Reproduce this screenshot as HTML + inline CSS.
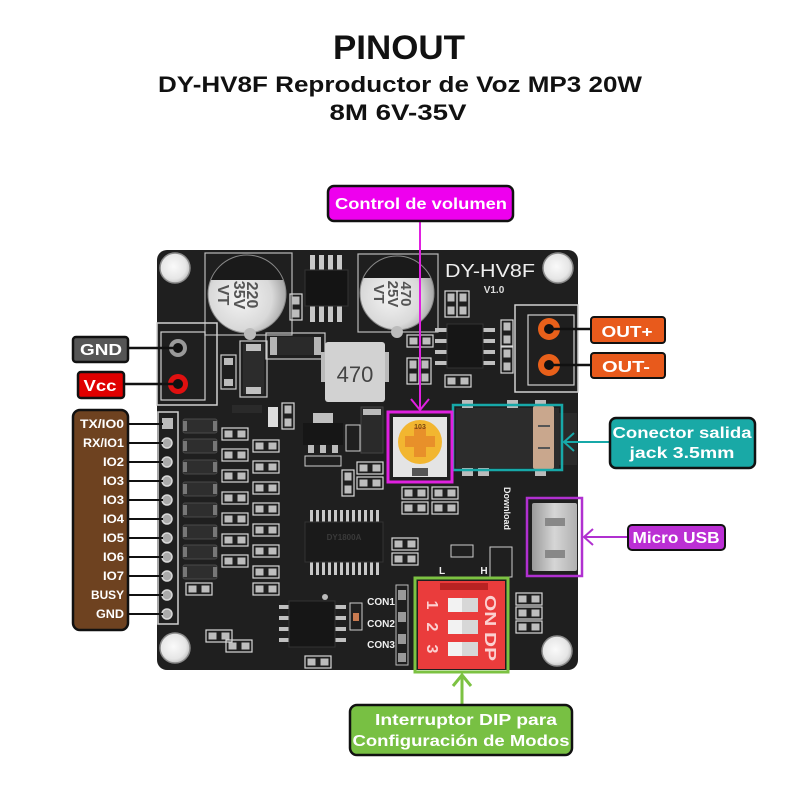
<!DOCTYPE html>
<html><head><meta charset="utf-8"><style>
body{margin:0;background:#fff}
svg{display:block}
text{font-family:"Liberation Sans",Arial,sans-serif;font-weight:bold}
</style></head><body>
<svg width="800" height="800" viewBox="0 0 800 800" xmlns="http://www.w3.org/2000/svg">
<defs>
<radialGradient id="cap" cx="0.42" cy="0.55" r="0.62"><stop offset="0" stop-color="#f4f4f4"/><stop offset="0.65" stop-color="#d9d9d9"/><stop offset="1" stop-color="#9c9c9c"/></radialGradient>
<radialGradient id="hole" cx="0.45" cy="0.45" r="0.6"><stop offset="0" stop-color="#fafafa"/><stop offset="0.7" stop-color="#e6e6e6"/><stop offset="1" stop-color="#b8b8b8"/></radialGradient>
<linearGradient id="usb" x1="0" y1="0" x2="1" y2="0"><stop offset="0" stop-color="#9a9a9a"/><stop offset="0.5" stop-color="#d6d6d6"/><stop offset="1" stop-color="#b0b0b0"/></linearGradient>
<clipPath id="c1"><circle cx="247" cy="294" r="39"/></clipPath>
<clipPath id="c2"><circle cx="397" cy="293" r="37"/></clipPath>
<g id="pp"><rect x="0" y="0" width="26" height="12" fill="none" stroke="#d8d8d8" stroke-width="1.2"/><rect x="2.5" y="2.5" width="8" height="7" fill="#bdbdbd"/><rect x="15.5" y="2.5" width="8" height="7" fill="#bdbdbd"/></g>
<g id="vr"><rect x="0" y="0" width="12" height="26" fill="none" stroke="#d8d8d8" stroke-width="1.2"/><rect x="2.5" y="2.5" width="7" height="8" fill="#bdbdbd"/><rect x="2.5" y="15.5" width="7" height="8" fill="#bdbdbd"/></g>
<g id="ra"><rect x="0" y="0" width="34" height="14" rx="2" fill="#2e2e2e" stroke="#4a4a4a" stroke-width="1"/><rect x="0" y="2" width="4" height="10" fill="#777"/><rect x="30" y="2" width="4" height="10" fill="#777"/></g>
</defs>
<rect width="800" height="800" fill="#fff"/>

<!-- Title -->
<text x="399" y="59" text-anchor="middle" font-size="34" fill="#111" textLength="132" lengthAdjust="spacingAndGlyphs">PINOUT</text>
<text x="400" y="92" text-anchor="middle" font-size="22" fill="#111" textLength="484" lengthAdjust="spacingAndGlyphs">DY-HV8F Reproductor de Voz MP3 20W</text>
<text x="398" y="120" text-anchor="middle" font-size="22" fill="#111" textLength="137" lengthAdjust="spacingAndGlyphs">8M 6V-35V</text>

<!-- Board -->
<rect x="157" y="250" width="421" height="420" rx="10" fill="#1f1f1f"/>
<!-- mounting holes -->
<circle cx="175" cy="268" r="15" fill="url(#hole)" stroke="#8a8a8a" stroke-width="1.5"/>
<circle cx="558" cy="268" r="15" fill="url(#hole)" stroke="#8a8a8a" stroke-width="1.5"/>
<circle cx="175" cy="648" r="15" fill="url(#hole)" stroke="#8a8a8a" stroke-width="1.5"/>
<circle cx="557" cy="651" r="15" fill="url(#hole)" stroke="#8a8a8a" stroke-width="1.5"/>

<!-- Capacitor 1 -->
<rect x="205" y="253" width="87" height="82" fill="none" stroke="#bbb" stroke-width="1.2"/>
<circle cx="247" cy="294" r="39" fill="url(#cap)"/>
<rect x="205" y="250" width="90" height="30" fill="#1a1a1a" clip-path="url(#c1)"/>
<circle cx="247" cy="294" r="39" fill="none" stroke="#888" stroke-width="1"/>
<circle cx="250" cy="334" r="6" fill="#bbb"/>
<g transform="translate(247,295) rotate(90)" fill="#555" font-size="16">
<text x="0" y="0" text-anchor="middle">220</text>
<text x="0" y="13" text-anchor="middle">35V</text>
<text x="0" y="29" text-anchor="middle">VT</text>
</g>
<!-- Capacitor 2 -->
<rect x="358" y="254" width="80" height="78" fill="none" stroke="#bbb" stroke-width="1.2"/>
<circle cx="397" cy="293" r="37" fill="url(#cap)"/>
<rect x="355" y="250" width="90" height="28" fill="#1a1a1a" clip-path="url(#c2)"/>
<circle cx="397" cy="293" r="37" fill="none" stroke="#888" stroke-width="1"/>
<circle cx="397" cy="332" r="6" fill="#bbb"/>
<g transform="translate(397,294) rotate(90)" fill="#555" font-size="15">
<text x="0" y="-4" text-anchor="middle">470</text>
<text x="0" y="9" text-anchor="middle">25V</text>
<text x="0" y="23" text-anchor="middle">VT</text>
</g>

<!-- top SOIC -->
<g fill="#c8c8c8">
<rect x="310" y="255" width="5" height="17"/><rect x="319" y="255" width="5" height="17"/><rect x="328" y="255" width="5" height="17"/><rect x="337" y="255" width="5" height="17"/>
<rect x="310" y="305" width="5" height="17"/><rect x="319" y="305" width="5" height="17"/><rect x="328" y="305" width="5" height="17"/><rect x="337" y="305" width="5" height="17"/>
</g>
<rect x="305" y="270" width="43" height="36" fill="#141414" stroke="#333"/>
<use href="#vr" x="290" y="294"/>

<!-- M535 diode -->
<rect x="266" y="333" width="59" height="26" fill="none" stroke="#ccc" stroke-width="1.2"/>
<rect x="270" y="337" width="51" height="18" fill="#2a2a2a"/>
<rect x="270" y="337" width="7" height="18" fill="#b5b5b5"/><rect x="314" y="337" width="7" height="18" fill="#b5b5b5"/>
<!-- SS34 -->
<rect x="240" y="341" width="27" height="56" fill="none" stroke="#ccc" stroke-width="1.2"/>
<rect x="243" y="344" width="21" height="50" fill="#2c2c2c"/>
<rect x="246" y="344" width="15" height="7" fill="#c0c0c0"/><rect x="246" y="387" width="15" height="7" fill="#c0c0c0"/>
<rect x="221" y="355" width="15" height="34" fill="none" stroke="#ccc" stroke-width="1.2"/>
<rect x="224" y="358" width="9" height="7" fill="#bbb"/><rect x="224" y="379" width="9" height="7" fill="#bbb"/>
<!-- Inductor -->
<rect x="321" y="352" width="6" height="30" fill="#bbb"/><rect x="383" y="352" width="6" height="30" fill="#bbb"/>
<rect x="325" y="342" width="60" height="60" rx="3" fill="#d2d2d2"/>
<text x="355" y="382" text-anchor="middle" font-size="22" font-weight="normal" fill="#444" style="font-weight:normal">470</text>

<!-- GND/VCC terminal -->
<rect x="157" y="323" width="60" height="82" fill="none" stroke="#d0d0d0" stroke-width="1.5"/>
<rect x="161" y="332" width="44" height="68" fill="none" stroke="#d0d0d0" stroke-width="1.2"/>
<circle cx="178" cy="348" r="9" fill="#999"/><circle cx="178" cy="348" r="5" fill="#111"/>
<circle cx="178" cy="384" r="10" fill="#e01010"/><circle cx="178" cy="384" r="5" fill="#111"/>

<!-- small comps center -->
<use href="#vr" x="282" y="403"/>
<rect x="268" y="407" width="10" height="20" fill="#ddd"/>
<rect x="303" y="423" width="40" height="22" fill="#161616"/>
<rect x="313" y="413" width="20" height="10" fill="#c0c0c0"/>
<rect x="308" y="445" width="6" height="8" fill="#bbb"/><rect x="320" y="445" width="6" height="8" fill="#bbb"/><rect x="332" y="445" width="6" height="8" fill="#bbb"/>
<rect x="305" y="456" width="36" height="10" fill="none" stroke="#ccc"/>
<rect x="346" y="425" width="14" height="26" fill="none" stroke="#ccc"/>
<rect x="361" y="407" width="22" height="46" fill="#2a2a2a" stroke="#444"/>
<rect x="363" y="409" width="18" height="6" fill="#bbb"/>
<use href="#pp" x="357" y="462"/><use href="#pp" x="357" y="477"/>
<use href="#vr" x="342" y="470"/>
<use href="#pp" x="402" y="487"/><use href="#pp" x="432" y="487"/>
<use href="#pp" x="402" y="502"/><use href="#pp" x="432" y="502"/>
<use href="#pp" x="392" y="538"/><use href="#pp" x="392" y="553"/>
<rect x="232" y="405" width="30" height="8" fill="#2a2a2a"/>

<!-- right side top -->
<text x="490" y="277" text-anchor="middle" font-size="18" fill="#eee" style="font-weight:normal" textLength="90" lengthAdjust="spacingAndGlyphs">DY-HV8F</text>
<text x="494" y="293" text-anchor="middle" font-size="10" fill="#ddd">V1.0</text>
<use href="#vr" x="445" y="291"/><use href="#vr" x="457" y="291"/>
<use href="#pp" x="407" y="335"/>
<use href="#vr" x="407" y="358"/><use href="#vr" x="419" y="358"/>
<use href="#pp" x="445" y="375"/>
<g fill="#c0c0c0">
<rect x="435" y="328" width="13" height="4"/><rect x="435" y="339" width="13" height="4"/><rect x="435" y="350" width="13" height="4"/><rect x="435" y="361" width="13" height="4"/>
<rect x="482" y="328" width="13" height="4"/><rect x="482" y="339" width="13" height="4"/><rect x="482" y="350" width="13" height="4"/><rect x="482" y="361" width="13" height="4"/>
</g>
<rect x="447" y="324" width="36" height="44" fill="#161616" stroke="#333"/>
<use href="#vr" x="501" y="320"/><use href="#vr" x="501" y="347"/>
<!-- OUT terminal -->
<rect x="515" y="305" width="63" height="87" fill="none" stroke="#d0d0d0" stroke-width="1.5"/>
<rect x="528" y="315" width="46" height="70" fill="none" stroke="#d0d0d0" stroke-width="1.2"/>
<circle cx="549" cy="329" r="11" fill="#e8601a"/><circle cx="549" cy="329" r="5" fill="#111"/>
<circle cx="549" cy="365" r="11" fill="#e8601a"/><circle cx="549" cy="365" r="5" fill="#111"/>

<!-- Jack -->
<rect x="456" y="408" width="103" height="60" fill="#2c2c2c"/>
<rect x="462" y="400" width="11" height="8" fill="#bbb"/><rect x="507" y="400" width="11" height="8" fill="#bbb"/><rect x="535" y="400" width="11" height="8" fill="#bbb"/>
<rect x="462" y="468" width="11" height="8" fill="#bbb"/><rect x="478" y="468" width="11" height="8" fill="#bbb"/><rect x="535" y="468" width="11" height="8" fill="#bbb"/>
<rect x="533" y="406" width="21" height="63" rx="2" fill="#c9a78d"/>
<rect x="538" y="425" width="12" height="2" fill="#555"/><rect x="538" y="447" width="12" height="2" fill="#555"/>
<rect x="559" y="413" width="18" height="52" fill="#2a2a2a"/>
<rect x="453" y="405" width="109" height="65" fill="none" stroke="#17a8a8" stroke-width="2.5"/>

<!-- Pot -->
<rect x="393" y="417" width="54" height="60" fill="#e4e4e4"/>
<circle cx="420" cy="442" r="22" fill="#f2b630"/>
<rect x="414" y="427" width="12" height="30" fill="#e8902a"/><rect x="405" y="436" width="30" height="11" fill="#e8902a"/>
<text x="420" y="429" text-anchor="middle" font-size="7" fill="#7a4a10">103</text>
<rect x="412" y="468" width="16" height="8" fill="#555"/>
<rect x="388" y="412" width="64" height="70" fill="none" stroke="#e020e0" stroke-width="3"/>

<!-- left header -->
<rect x="158" y="412" width="20" height="212" fill="none" stroke="#d0d0d0" stroke-width="1.5"/>
<rect x="162" y="418" width="11" height="11" fill="#bbb"/>
<g fill="#aaa" stroke="#d8d8d8" stroke-width="1.5">
<circle cx="167" cy="443" r="5"/><circle cx="167" cy="462" r="5"/><circle cx="167" cy="481" r="5"/><circle cx="167" cy="500" r="5"/><circle cx="167" cy="519" r="5"/><circle cx="167" cy="538" r="5"/><circle cx="167" cy="557" r="5"/><circle cx="167" cy="576" r="5"/><circle cx="167" cy="595" r="5"/><circle cx="167" cy="614" r="5"/>
</g>
<!-- resistor arrays -->
<use href="#ra" x="183" y="419"/><use href="#ra" x="183" y="439"/><use href="#ra" x="183" y="460"/><use href="#ra" x="183" y="482"/>
<use href="#ra" x="183" y="503"/><use href="#ra" x="183" y="525"/><use href="#ra" x="183" y="545"/><use href="#ra" x="183" y="565"/>
<use href="#pp" x="186" y="583"/>
<use href="#pp" x="222" y="428"/><use href="#pp" x="222" y="449"/><use href="#pp" x="222" y="470"/><use href="#pp" x="222" y="492"/>
<use href="#pp" x="222" y="513"/><use href="#pp" x="222" y="534"/><use href="#pp" x="222" y="555"/>
<use href="#pp" x="253" y="440"/><use href="#pp" x="253" y="461"/><use href="#pp" x="253" y="482"/><use href="#pp" x="253" y="503"/>
<use href="#pp" x="253" y="524"/><use href="#pp" x="253" y="545"/><use href="#pp" x="253" y="566"/><use href="#pp" x="253" y="583"/>

<!-- main IC -->
<g fill="#c8c8c8">
<rect x="310" y="510" width="3" height="14"/><rect x="316" y="510" width="3" height="14"/><rect x="322" y="510" width="3" height="14"/><rect x="328" y="510" width="3" height="14"/><rect x="334" y="510" width="3" height="14"/><rect x="340" y="510" width="3" height="14"/><rect x="346" y="510" width="3" height="14"/><rect x="352" y="510" width="3" height="14"/><rect x="358" y="510" width="3" height="14"/><rect x="364" y="510" width="3" height="14"/><rect x="370" y="510" width="3" height="14"/><rect x="376" y="510" width="3" height="14"/>
<rect x="310" y="561" width="3" height="14"/><rect x="316" y="561" width="3" height="14"/><rect x="322" y="561" width="3" height="14"/><rect x="328" y="561" width="3" height="14"/><rect x="334" y="561" width="3" height="14"/><rect x="340" y="561" width="3" height="14"/><rect x="346" y="561" width="3" height="14"/><rect x="352" y="561" width="3" height="14"/><rect x="358" y="561" width="3" height="14"/><rect x="364" y="561" width="3" height="14"/><rect x="370" y="561" width="3" height="14"/><rect x="376" y="561" width="3" height="14"/>
</g>
<rect x="305" y="522" width="78" height="40" fill="#1a1a1a" stroke="#333"/>
<text x="344" y="540" text-anchor="middle" font-size="8" fill="#3a3a3a">DY1800A</text>

<!-- bottom-left SOIC -->
<g fill="#c0c0c0">
<rect x="279" y="605" width="12" height="4"/><rect x="279" y="616" width="12" height="4"/><rect x="279" y="627" width="12" height="4"/><rect x="279" y="638" width="12" height="4"/>
<rect x="334" y="605" width="12" height="4"/><rect x="334" y="616" width="12" height="4"/><rect x="334" y="627" width="12" height="4"/><rect x="334" y="638" width="12" height="4"/>
</g>
<rect x="289" y="601" width="46" height="46" fill="#161616" stroke="#333"/>
<circle cx="325" cy="597" r="3" fill="#bbb"/>
<rect x="350" y="603" width="12" height="27" fill="none" stroke="#ccc"/><rect x="353" y="613" width="6" height="8" fill="#c87a50"/>
<use href="#pp" x="305" y="656"/><use href="#pp" x="206" y="630"/><use href="#pp" x="226" y="640"/>

<!-- CON labels & strip -->
<text x="381" y="605" text-anchor="middle" font-size="10" fill="#eee">CON1</text>
<text x="381" y="627" text-anchor="middle" font-size="10" fill="#eee">CON2</text>
<text x="381" y="648" text-anchor="middle" font-size="10" fill="#eee">CON3</text>
<rect x="396" y="585" width="12" height="80" fill="none" stroke="#bbb"/>
<rect x="398" y="590" width="8" height="10" fill="#999"/><rect x="398" y="612" width="8" height="10" fill="#999"/><rect x="398" y="634" width="8" height="10" fill="#999"/><rect x="398" y="653" width="8" height="9" fill="#999"/>
<text x="442" y="574" text-anchor="middle" font-size="10" fill="#eee">L</text>
<text x="484" y="574" text-anchor="middle" font-size="10" fill="#eee">H</text>
<path d="M451 545 h22 v12 h-22 z" fill="none" stroke="#ccc"/>
<rect x="490" y="547" width="22" height="30" fill="none" stroke="#ccc"/>
<text transform="translate(504,487) rotate(90)" font-size="9" fill="#eee">Download</text>
<use href="#pp" x="516" y="593"/><use href="#pp" x="516" y="607"/><use href="#pp" x="516" y="621"/>

<!-- USB -->
<rect x="532" y="503" width="45" height="68" rx="2" fill="url(#usb)"/>
<rect x="545" y="518" width="20" height="8" fill="#888"/><rect x="545" y="550" width="20" height="8" fill="#888"/>
<rect x="527" y="498" width="55" height="78" fill="none" stroke="#b030d0" stroke-width="2.5"/>

<!-- DIP -->
<rect x="418" y="581" width="87" height="88" fill="#ea3c3c"/>
<rect x="440" y="583" width="48" height="7" fill="#b82222"/>
<rect x="448" y="598" width="30" height="14" fill="#f2f2f2"/><rect x="462" y="598" width="16" height="14" fill="#d7d7d7"/>
<rect x="448" y="620" width="30" height="14" fill="#f2f2f2"/><rect x="462" y="620" width="16" height="14" fill="#d7d7d7"/>
<rect x="448" y="642" width="30" height="14" fill="#f2f2f2"/><rect x="462" y="642" width="16" height="14" fill="#d7d7d7"/>
<g fill="#fbd0d0" font-size="16" style="font-weight:normal">
<text transform="translate(427,605) rotate(90)" text-anchor="middle">1</text>
<text transform="translate(427,627) rotate(90)" text-anchor="middle">2</text>
<text transform="translate(427,649) rotate(90)" text-anchor="middle">3</text>
<text transform="translate(485,628) rotate(90)" text-anchor="middle" textLength="66" lengthAdjust="spacingAndGlyphs">ON DP</text>
</g>
<rect x="415" y="578" width="93" height="94" fill="none" stroke="#7cc242" stroke-width="3"/>

<!-- Callout: Control de volumen -->
<line x1="420" y1="221" x2="420" y2="411" stroke="#e020e0" stroke-width="2"/>
<polyline points="411,399 420,410 429,399" fill="none" stroke="#e020e0" stroke-width="2"/>
<rect x="328" y="186" width="185" height="35" rx="6" fill="#ee00ee" stroke="#111" stroke-width="2.5"/>
<text x="421" y="209" text-anchor="middle" font-size="16" fill="#fff" textLength="172" lengthAdjust="spacingAndGlyphs">Control de volumen</text>

<!-- OUT labels -->
<line x1="549" y1="329" x2="592" y2="329" stroke="#111" stroke-width="2.5"/>
<line x1="549" y1="365" x2="592" y2="365" stroke="#111" stroke-width="2.5"/>
<rect x="591" y="317" width="74" height="26" rx="3" fill="#e85a1c" stroke="#111" stroke-width="2"/>
<text x="627" y="337" text-anchor="middle" font-size="16" fill="#fff" textLength="51" lengthAdjust="spacingAndGlyphs">OUT+</text>
<rect x="591" y="353" width="74" height="25" rx="3" fill="#e85a1c" stroke="#111" stroke-width="2"/>
<text x="626" y="372" text-anchor="middle" font-size="16" fill="#fff" textLength="48" lengthAdjust="spacingAndGlyphs">OUT-</text>

<!-- Jack label -->
<line x1="564" y1="442" x2="611" y2="442" stroke="#17a8a8" stroke-width="2"/>
<polyline points="574,433 564,442 574,451" fill="none" stroke="#17a8a8" stroke-width="2"/>
<rect x="610" y="418" width="145" height="50" rx="6" fill="#19a9a6" stroke="#111" stroke-width="2.5"/>
<text x="682" y="438" text-anchor="middle" font-size="16" fill="#fff" textLength="139" lengthAdjust="spacingAndGlyphs">Conector salida</text>
<text x="682" y="458" text-anchor="middle" font-size="16" fill="#fff" textLength="105" lengthAdjust="spacingAndGlyphs">jack 3.5mm</text>

<!-- Micro USB label -->
<line x1="584" y1="537" x2="629" y2="537" stroke="#b030d0" stroke-width="2"/>
<polyline points="593,529 584,537 593,545" fill="none" stroke="#b030d0" stroke-width="2"/>
<rect x="628" y="525" width="97" height="25" rx="4" fill="#bb2fd4" stroke="#111" stroke-width="2"/>
<text x="676" y="543" text-anchor="middle" font-size="16" fill="#fff" textLength="87" lengthAdjust="spacingAndGlyphs">Micro USB</text>

<!-- DIP label -->
<line x1="462" y1="706" x2="462" y2="675" stroke="#7cc242" stroke-width="3"/>
<polyline points="453,686 462,675 471,686" fill="none" stroke="#7cc242" stroke-width="3"/>
<rect x="350" y="705" width="222" height="50" rx="7" fill="#78c043" stroke="#111" stroke-width="2.5"/>
<text x="466" y="725" text-anchor="middle" font-size="16" fill="#fff" textLength="182" lengthAdjust="spacingAndGlyphs">Interruptor DIP para</text>
<text x="461" y="746" text-anchor="middle" font-size="16" fill="#fff" textLength="217" lengthAdjust="spacingAndGlyphs">Configuración de Modos</text>

<!-- GND / Vcc labels -->
<line x1="127" y1="348" x2="178" y2="348" stroke="#111" stroke-width="2.5"/>
<line x1="123" y1="384" x2="178" y2="384" stroke="#111" stroke-width="2.5"/>
<rect x="73" y="337" width="55" height="25" rx="3" fill="#555" stroke="#111" stroke-width="2.5"/>
<text x="101" y="355" text-anchor="middle" font-size="16" fill="#fff" textLength="42" lengthAdjust="spacingAndGlyphs">GND</text>
<rect x="78" y="372" width="46" height="26" rx="3" fill="#e00000" stroke="#111" stroke-width="2.5"/>
<text x="100" y="391" text-anchor="middle" font-size="16" fill="#fff" textLength="33" lengthAdjust="spacingAndGlyphs">Vcc</text>

<!-- Pin list -->
<g stroke="#111" stroke-width="2">
<line x1="127" y1="424" x2="163" y2="424"/><line x1="127" y1="443" x2="163" y2="443"/><line x1="127" y1="462" x2="163" y2="462"/><line x1="127" y1="481" x2="163" y2="481"/><line x1="127" y1="500" x2="163" y2="500"/><line x1="127" y1="519" x2="163" y2="519"/><line x1="127" y1="538" x2="163" y2="538"/><line x1="127" y1="557" x2="163" y2="557"/><line x1="127" y1="576" x2="163" y2="576"/><line x1="127" y1="595" x2="163" y2="595"/><line x1="127" y1="614" x2="163" y2="614"/>
</g>
<rect x="73" y="410" width="55" height="220" rx="7" fill="#6e4220" stroke="#111" stroke-width="2.5"/>
<g fill="#fff" font-size="12" text-anchor="end">
<text x="124" y="428" textLength="44" lengthAdjust="spacingAndGlyphs">TX/IO0</text>
<text x="124" y="447" textLength="41" lengthAdjust="spacingAndGlyphs">RX/IO1</text>
<text x="124" y="466" textLength="21" lengthAdjust="spacingAndGlyphs">IO2</text>
<text x="124" y="485" textLength="21" lengthAdjust="spacingAndGlyphs">IO3</text>
<text x="124" y="504" textLength="21" lengthAdjust="spacingAndGlyphs">IO3</text>
<text x="124" y="523" textLength="21" lengthAdjust="spacingAndGlyphs">IO4</text>
<text x="124" y="542" textLength="21" lengthAdjust="spacingAndGlyphs">IO5</text>
<text x="124" y="561" textLength="21" lengthAdjust="spacingAndGlyphs">IO6</text>
<text x="124" y="580" textLength="21" lengthAdjust="spacingAndGlyphs">IO7</text>
<text x="124" y="599" textLength="33" lengthAdjust="spacingAndGlyphs">BUSY</text>
<text x="124" y="618" textLength="28" lengthAdjust="spacingAndGlyphs">GND</text>
</g>
</svg>
</body></html>
